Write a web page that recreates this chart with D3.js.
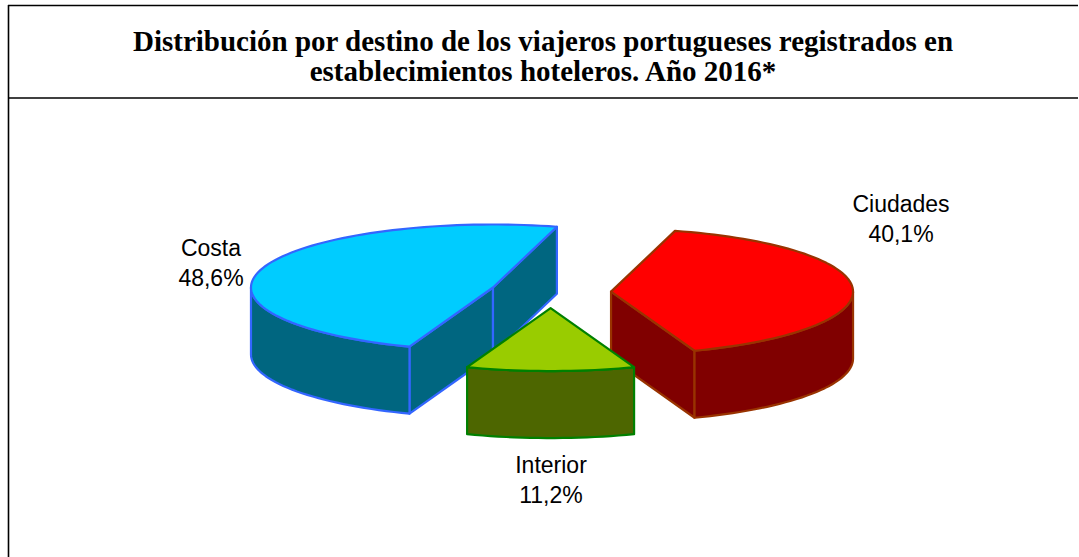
<!DOCTYPE html>
<html>
<head>
<meta charset="utf-8">
<script src="https://cdn.jsdelivr.net/npm/d3@7"></script>
<style>
  html, body { margin: 0; padding: 0; background: #fff; }
  svg { display: block; }
</style>
</head>
<body>
<svg id="chart" width="1079" height="557"></svg>
<script>
// Travellers by destination (percent of total), drawn clockwise from the back-right
const categories = ["Ciudades", "Interior", "Costa"];
const values = [40.1, 11.2, 48.6];
const valueLabels = ["40,1%", "11,2%", "48,6%"];

const titleLines = [
  "Distribución por destino de los viajeros portugueses registrados en",
  "establecimientos hoteleros. Año 2016*"
];

// Face colours per slice: top, walls, outline
const topColors = ["#FF0000", "#99CC00", "#00CCFF"];
const sideColors = ["#800000", "#4D6600", "#006680"];
const strokeColors = ["#993300", "#008000", "#3366FF"];

const W = 1079, H = 557;
const svg = d3.select("#chart");

// Frame: left edge, top edge and the rule under the title
const frame = svg.append("g").attr("stroke", "#000").attr("stroke-width", 1.6);
frame.append("line").attr("x1", 8.5).attr("y1", 5).attr("x2", 8.5).attr("y2", H);
frame.append("line").attr("x1", 8).attr("y1", 5.5).attr("x2", 1078).attr("y2", 5.5);
frame.append("line").attr("x1", 8).attr("y1", 98).attr("x2", 1078).attr("y2", 98);

// Title
const title = svg.append("text")
  .attr("text-anchor", "middle")
  .attr("font-family", "'Liberation Serif', 'Times New Roman', serif")
  .attr("font-weight", "bold")
  .attr("font-size", 29)
  .attr("fill", "#000");
titleLines.forEach((t, i) => {
  title.append("tspan").attr("x", 543).attr("y", 51 + i * 30).text(t);
});

// 3D pie geometry (ellipse radii, wall height, explode distance)
const cx = 550.6, cy = 292.3;
const R = 242, r = 63, depth = 67, explode = 60.5;
const tilt = r / R;

const total = d3.sum(values);
// Rotate so the Interior slice faces the viewer
const start = Math.PI - (values[0] + values[1] / 2) / total * 2 * Math.PI;
const pie = d3.pie().sort(null).value(d => d)
  .startAngle(start).endAngle(start + 2 * Math.PI);
const arcs = pie(values);

const angleScale = d3.scaleLinear().domain([0, 1]);

function pt(phi, ox, oy, dz) {
  return [ox + R * Math.sin(phi), oy - r * Math.cos(phi) + dz];
}
function arcPoints(a0, a1, ox, oy, dz) {
  const n = Math.max(2, Math.ceil(Math.abs(a1 - a0) / (Math.PI / 90)));
  angleScale.range([a0, a1]);
  return d3.range(n + 1).map(i => pt(angleScale(i / n), ox, oy, dz));
}
const line = d3.line();

const slices = arcs.map((a, i) => {
  const mid = (a.startAngle + a.endAngle) / 2;
  return {
    i, a, mid,
    ox: cx + explode * Math.sin(mid),
    oy: cy - explode * tilt * Math.cos(mid)
  };
}).sort((p, q) => p.oy - q.oy);

const g = svg.append("g").attr("stroke-linejoin", "round");

slices.forEach(s => {
  const { a, ox, oy, i } = s;
  const sg = g.append("g")
    .attr("stroke", strokeColors[i])
    .attr("stroke-width", 2.2);

  // Cut faces that turn toward the viewer
  const faces = [];
  if (Math.sin(a.startAngle) < 0) faces.push(a.startAngle);
  if (Math.sin(a.endAngle) > 0) faces.push(a.endAngle);
  faces.forEach(phi => {
    const c0 = [ox, oy], c1 = [ox, oy + depth];
    const p0 = pt(phi, ox, oy, 0), p1 = pt(phi, ox, oy, depth);
    sg.append("path")
      .attr("d", line([c0, p0, p1, c1]) + "Z")
      .attr("fill", sideColors[i]);
  });

  // Front part of the curved wall
  for (let k = -1; k <= 1; k++) {
    const lo = Math.max(a.startAngle, Math.PI / 2 + k * 2 * Math.PI);
    const hi = Math.min(a.endAngle, 3 * Math.PI / 2 + k * 2 * Math.PI);
    if (hi > lo) {
      const topEdge = arcPoints(lo, hi, ox, oy, 0);
      const botEdge = arcPoints(hi, lo, ox, oy, depth);
      sg.append("path")
        .attr("d", line(topEdge.concat(botEdge)) + "Z")
        .attr("fill", sideColors[i]);
    }
  }

  // Top face
  const topPts = [[ox, oy]].concat(arcPoints(a.startAngle, a.endAngle, ox, oy, 0));
  sg.append("path")
    .attr("d", line(topPts) + "Z")
    .attr("fill", topColors[i]);
});

// Data labels
const labelPos = {
  "Costa": [211, 256],
  "Ciudades": [901, 212],
  "Interior": [551, 473]
};
const labels = svg.append("g")
  .attr("font-family", "'Liberation Sans', Arial, sans-serif")
  .attr("font-size", 23)
  .attr("fill", "#000")
  .attr("text-anchor", "middle");
categories.forEach((c, i) => {
  const [x, y] = labelPos[c];
  const t = labels.append("text");
  t.append("tspan").attr("x", x).attr("y", y).text(c);
  t.append("tspan").attr("x", x).attr("y", y + 30).text(valueLabels[i]);
});
</script>
</body>
</html>
